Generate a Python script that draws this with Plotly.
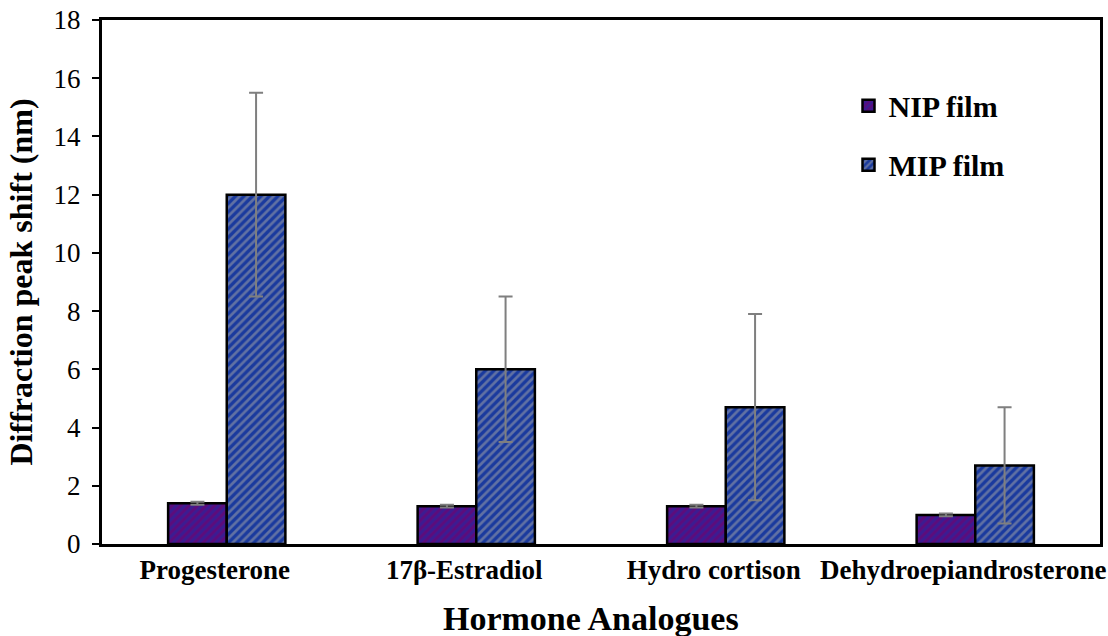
import plotly.graph_objects as go

# Hormone analogues tested on the films
categories = ["Progesterone", "17β-Estradiol", "Hydro cortison", "Dehydroepiandrosterone"]

# Diffraction peak shift (nm) and error bar half-widths
nip_values = [1.4, 1.3, 1.3, 1.0]
nip_errors = [0.05, 0.05, 0.05, 0.05]
mip_values = [12.0, 6.0, 4.7, 2.7]
mip_errors = [3.5, 2.5, 3.2, 2.0]

y_ticks = [0, 2, 4, 6, 8, 10, 12, 14, 16, 18]

serif = "Liberation Serif"

fig = go.Figure()

fig.add_trace(go.Bar(
    name="NIP film",
    x=categories,
    y=nip_values,
    legendgroup="nip",
    marker=dict(
        color="#5c0c7c",
        line=dict(color="black", width=2.5),
        pattern=dict(shape="/", fgcolor="#1a2ca8", size=6, solidity=0.5),
    ),
    error_y=dict(type="data", array=nip_errors, color="#7f7f7f", thickness=2, width=7),
))

fig.add_trace(go.Bar(
    name="MIP film",
    x=categories,
    y=mip_values,
    legendgroup="mip",
    marker=dict(
        color="#1a3a9e",
        line=dict(color="black", width=2.5),
        pattern=dict(shape="/", fgcolor="#a8a8a8", size=6, solidity=0.45),
    ),
    error_y=dict(type="data", array=mip_errors, color="#7f7f7f", thickness=2, width=7),
))

fig.update_layout(
    width=1108,
    height=636,
    margin=dict(l=102, r=8, t=20, b=92),
    paper_bgcolor="white",
    plot_bgcolor="white",
    barmode="group",
    bargap=0.53,
    bargroupgap=0,
    font=dict(family=serif, color="black"),
    legend=dict(
        x=0.748,
        y=0.886,
        xanchor="left",
        yanchor="top",
        bgcolor="rgba(0,0,0,0)",
        font=dict(family=serif, size=30, color="black", weight="bold"),
        tracegroupgap=17,
        itemwidth=30,
    ),
    showlegend=True,
)

# x-axis title drawn as a paper-anchored annotation below the tick labels
fig.add_annotation(
    text="Hormone Analogues",
    xref="paper", yref="paper",
    x=0.49, y=0,
    xanchor="center", yanchor="top",
    yshift=-54,
    showarrow=False,
    font=dict(family=serif, size=34, color="black", weight="bold"),
)

fig.update_xaxes(
    automargin=False,
    showline=True,
    linecolor="black",
    linewidth=3,
    mirror=True,
    ticks="",
    ticklabelshift=-12,
    ticklabelstandoff=0,
    tickfont=dict(family=serif, size=27, color="black", weight="bold"),
)

fig.update_yaxes(
    automargin=False,
    range=[0, 18],
    tickvals=y_ticks,
    showline=True,
    linecolor="black",
    linewidth=3,
    mirror=True,
    showgrid=False,
    zeroline=False,
    ticks="outside",
    ticklen=7,
    tickwidth=2,
    tickcolor="black",
    ticklabelstandoff=6,
    tickfont=dict(family=serif, size=27, color="black"),
    title=dict(text="Diffraction peak shift (nm)", font=dict(family=serif, size=32, color="black", weight="bold"), standoff=12),
)

fig.write_html("out.html")
